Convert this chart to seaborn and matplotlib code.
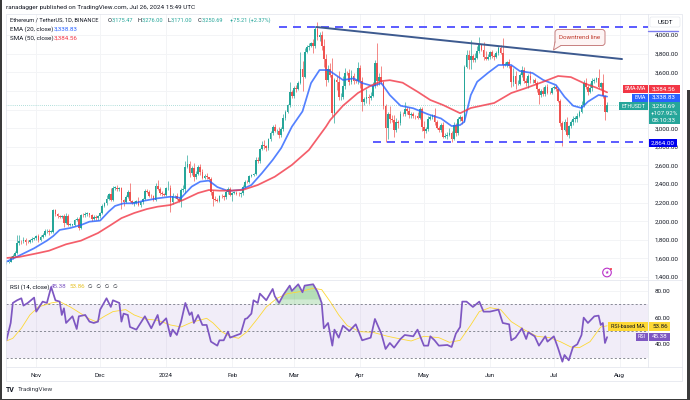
import matplotlib.pyplot as plt
import numpy as np
import pandas as pd
import seaborn as sns
from matplotlib.patches import Circle, FancyBboxPatch, Polygon, Rectangle

# Daily closes, Oct 18 2023 .. Jul 26 2024, one row per month
closes = [
    1565, 1567, 1605, 1630, 1660, 1765, 1787, 1785, 1803, 1778, 1775, 1794, 1810, 1816,
    1846, 1796, 1833, 1856, 1892, 1900, 1886, 1889, 2120, 2077, 2053, 2044, 2055, 1980, 2058,
    1961, 1962, 1964, 2012, 2022, 1930, 2064, 2062, 2081, 2083, 2064, 2027, 2049, 2029, 2052,
    2087, 2166, 2193, 2243, 2293, 2233, 2358, 2358, 2341, 2353, 2225, 2203, 2260, 2316, 2221,
    2197, 2197, 2217, 2177, 2201, 2239, 2326, 2315, 2273, 2267, 2230, 2378, 2346, 2300, 2291, 2281,
    2352, 2355, 2209, 2268, 2268, 2239, 2221, 2331, 2344, 2585, 2616, 2520, 2576, 2472, 2511,
    2587, 2529, 2467, 2490, 2470, 2454, 2312, 2240, 2232, 2218, 2267, 2266, 2256, 2317, 2343, 2282,
    2304, 2308, 2296, 2290, 2299, 2372, 2423, 2420, 2486, 2501, 2507, 2659, 2643, 2778, 2823,
    2803, 2785, 2881, 2944, 3014, 2969, 2972, 2922, 2992, 3112, 3178, 3243, 3383, 3340,
    3433, 3420, 3488, 3631, 3552, 3818, 3868, 3885, 3918, 3879, 4066, 3978, 4003, 3883, 3738,
    3521, 3640, 3575, 3160, 3520, 3493, 3329, 3330, 3455, 3590, 3588, 3500, 3561, 3510, 3509, 3645,
    3503, 3280, 3310, 3330, 3319, 3350, 3455, 3700, 3505, 3545, 3500, 3235, 3005, 3157, 3100,
    3085, 2984, 3065, 3055, 3155, 3147, 3201, 3185, 3139, 3155, 3131, 3130, 3112, 3210, 3014,
    2970, 2988, 3103, 3118, 3136, 3065, 3006, 2975, 3037, 2909, 2913, 2930, 2950, 2880, 3037,
    2945, 3093, 3120, 3074, 3660, 3790, 3737, 3780, 3727, 3748, 3825, 3892, 3840, 3767, 3747, 3761,
    3815, 3780, 3767, 3810, 3865, 3812, 3680, 3680, 3705, 3667, 3497, 3560, 3470, 3475, 3566,
    3622, 3510, 3482, 3560, 3515, 3517, 3490, 3418, 3354, 3395, 3370, 3447, 3380, 3377, 3435,
    3440, 3420, 3295, 3059, 2980, 3065, 2930, 3018, 3065, 3100, 3100, 3135, 3175, 3248, 3485,
    3443, 3388, 3426, 3505, 3518, 3537, 3440, 3480, 3340, 3175, 3250.69,
]
upper_wicks = [
    15, 10, 25, 20, 25, 85, 70, 15, 25, 20, 15, 20, 15, 15,
    10, 20, 15, 15, 20, 20, 15, 15, 15, 15, 15, 15, 15, 20, 30, 15, 15, 5, 10, 25, 20, 15, 20, 20, 15, 10, 10, 15, 20, 15,
    15, 20, 15, 35, 15, 60, 15, 15, 30, 15, 10, 15, 20, 15, 90, 10, 15, 10, 45, 15, 15, 15, 25, 20, 15, 10, 30, 65, 25, 20, 15,
    15, 75, 30, 30, 15, 40, 20, 25, 50, 60, 100, 30, 15, 50, 30, 15, 30, 30, 15, 25, 10, 20, 20, 30, 15, 15, 20, 15, 15, 25, 25,
    15, 15, 15, 15, 20, 20, 15, 15, 15, 10, 15, 30, 30, 10, 35, 45, 15, 15, 30, 20, 30, 15, 45, 15, 40, 20, 20, 110, 25,
    15, 30, 15, 190, 90, 45, 20, 25, 10, 40, 27, 70, 30, 40, 70,
    55, 35, 55, 180, 15, 40, 120, 50, 100, 60, 25, 50, 60, 30, 20, 60,
    30, 50, 25, 90, 40, 40, 40, 30, 210, 45, 120, 10, 25, 15, 85, 40, 60, 40, 20, 30, 15, 75, 25, 40, 15, 15, 10, 40, 15, 15,
    60, 25, 30, 20, 20, 75, 25, 20, 20, 30, 30, 30, 50, 15, 30, 20, 25, 25, 15, 15, 50, 50, 170, 15, 55, 60, 85, 10, 80, 60, 30,
    15, 20, 20, 20, 20, 30, 160, 25, 20, 35, 10, 90, 50, 45, 30, 50, 30, 30, 20, 50, 10, 20, 15, 10, 30, 45, 20, 30, 15, 10,
    20, 20, 15, 15, 20, 30, 50, 20, 20, 30, 30, 25, 25, 40, 35, 55, 20, 55, 30, 20, 15, 100, 20, 100, 15, 26,
]
lower_wicks = [
    15, 10, 10, 10, 5, 10, 20, 25, 15, 30, 10, 10, 15, 15,
    20, 20, 10, 15, 15, 15, 35, 15, 15, 20, 15, 15, 15, 40, 15, 15, 15, 15, 20, 15, 20, 15, 20, 15, 20, 15, 30, 15, 15, 20,
    15, 10, 10, 20, 15, 15, 15, 20, 15, 15, 90, 45, 10, 15, 15, 15, 35, 15, 15, 20, 15, 10, 15, 15, 20, 15, 15, 15, 15, 20, 15,
    15, 15, 109, 25, 15, 15, 20, 70, 15, 40, 15, 45, 20, 45, 15, 20, 30, 15, 15, 15, 15, 30, 75, 20, 15, 10, 15, 30, 15, 20, 15,
    65, 15, 10, 15, 35, 15, 15, 15, 15, 15, 15, 15, 15, 15, 15, 30, 35, 15, 20, 15, 15, 30, 30, 20, 20, 30, 20, 15, 15,
    15, 30, 15, 15, 150, 15, 15, 25, 15, 70, 15, 30, 40, 40, 80,
    65, 30, 25, 30, 100, 80, 25, 30, 15, 40, 15, 40, 30, 40, 20, 40,
    70, 100, 30, 40, 60, 20, 20, 25, 50, 45, 25, 30, 155, 125, 50, 15, 80, 30, 55, 20, 15, 15, 35, 30, 30, 20, 30, 15, 15, 50,
    80, 25, 15, 15, 15, 35, 15, 20, 15, 20, 20, 30, 15, 30, 10, 30, 15, 15, 30, 10, 15, 100, 100, 15, 15, 10, 15, 15, 40, 15, 15,
    15, 30, 30, 15, 20, 15, 30, 15, 20, 20, 50, 40, 50, 10, 15, 20, 25, 25, 50, 35, 25, 20, 30, 100, 20, 20, 30, 15, 15, 15,
    15, 20, 15, 40, 170, 15, 15, 40, 20, 30, 30, 30, 20, 15, 20, 25, 35, 15, 25, 15, 20, 10, 20, 20, 88, 5,
]

ema_days = [0, 5, 13, 19, 22, 25, 30, 35, 39, 44, 48, 51, 55, 60, 64, 71, 77, 82, 84, 87, 91, 95, 99, 104,
            110, 115, 120, 125, 129, 134, 139, 143, 147, 151, 154, 158, 163, 167, 172, 176, 180, 185, 191, 198, 204, 209,
            213, 215, 218, 221, 226, 231, 237, 241, 247, 252, 258, 262, 266, 270, 273, 278, 282]
ema_values = [1565, 1619, 1709, 1791, 1841, 1906, 1927, 1959, 1995, 2006, 2103, 2164, 2192, 2192, 2217, 2246, 2263, 2250, 2300, 2372, 2425, 2436, 2367, 2325,
              2336, 2389, 2518, 2658, 2786, 3015, 3180, 3484, 3624, 3624, 3580, 3517, 3534, 3484, 3452, 3484, 3355, 3241, 3213, 3148, 3104, 3022,
              3033, 3069, 3355, 3498, 3592, 3678, 3678, 3613, 3592, 3517, 3463, 3337, 3241, 3216, 3284, 3356, 3338.83]
sma_days = [0, 6, 15, 20, 28, 35, 43, 49, 54, 60, 66, 71, 77, 83, 90, 95, 100, 105, 111, 118, 126, 134, 142, 150, 152, 158, 165, 171,
            176, 180, 186, 193, 199, 205, 213, 218, 229, 237, 244, 252, 259, 265, 271, 277, 282]
sma_values = [1605, 1616, 1658, 1683, 1752, 1791, 1873, 1959, 2033, 2088, 2131, 2156, 2174, 2228, 2303, 2335, 2328, 2328, 2336, 2389, 2478, 2604, 2765, 3015, 3087, 3241, 3377, 3455,
              3505, 3515, 3488, 3391, 3302, 3248, 3160, 3216, 3270, 3377, 3431, 3498, 3560, 3548, 3484, 3434, 3384.56]

rsi_days = [0, 2, 3, 5, 7, 8, 10, 13, 14, 17, 19, 21, 23, 25, 26, 27, 28, 31, 33, 34, 37, 39, 41, 43, 44, 47, 49, 50, 53, 54, 55, 57, 58,
            61, 65, 67, 68, 71, 72, 75, 77, 78, 80, 82, 84, 86, 87, 88, 90, 92, 94, 96, 99, 100, 102, 104, 105,
            110, 112, 113, 115, 116, 118, 119, 122, 125, 126, 128, 130, 133, 134, 137, 139, 140, 144, 146, 148, 149, 151, 153, 154, 156, 158,
            161, 164, 167, 171, 173, 176, 178, 180, 182, 185, 187, 191, 193, 196, 198, 199, 201, 203, 207, 209, 211, 213,
            214, 216, 219, 222, 224, 227, 231, 233, 236, 237, 239, 242, 244, 245, 248, 250, 253, 254, 257, 259, 261, 262, 264, 266, 268,
            270, 271, 273, 276, 278, 279, 280, 281, 282]
rsi_values = [43, 56, 71, 73, 74.5, 69, 71, 75, 64.5, 72, 71, 83, 73, 72, 62, 67, 56, 61, 51.5, 61, 62, 57, 56, 57, 66, 74.5, 68, 73, 71, 57, 63, 62, 53,
              51, 61, 55, 52, 62, 54.5, 59.5, 46, 51, 47, 57, 71, 62, 64, 56, 62, 54.5, 54.5, 42, 39, 43, 43, 49.5, 45,
              48, 59, 59.5, 63, 73, 71, 78, 73, 81.5, 76, 71, 77, 84, 80, 85, 79, 84, 85, 79.5, 71, 52, 56, 39, 51, 45, 54,
              50, 55, 43, 45, 59, 48, 36.5, 41, 37.5, 44, 47, 46, 51, 39, 39, 46, 43, 39, 39.5, 38, 48, 53,
              72, 72, 68, 72, 64.5, 64.5, 66, 56, 55, 43, 45, 52, 44, 49, 46, 39, 46, 42, 46, 37, 27, 32, 28, 38, 40,
              47, 60, 56, 61, 61.5, 54.5, 56, 41, 45.38]
rsi_ma_days = [0, 3, 7, 11, 15, 21, 25, 30, 35, 39, 42, 46, 50, 56, 60, 65, 71, 77, 82, 87, 94, 97, 101, 105, 109, 113, 118, 122, 127, 132,
               138, 144, 148, 152, 156, 160, 166, 172, 179, 185, 190, 196, 203, 208, 213, 218, 222, 227, 232, 237, 243, 249, 255, 260, 265, 269, 274, 279, 282]
rsi_ma_values = [42.5, 44.5, 52, 62, 68, 71, 72, 68, 63, 59, 57, 61, 64.5, 66, 62, 59, 58, 54.5, 53, 56.5, 59.5, 56, 49.5, 46, 44.5, 49.5, 59.5, 68, 74.5, 78,
                 79.5, 82, 81, 72, 62, 54, 49.5, 49, 46, 44, 42.5, 46, 45, 41.5, 43, 54.5, 64.5, 67.5, 66, 57, 51, 46, 45, 42, 38, 37.5, 42, 53, 53.86]

price_ticks = [1400, 1600, 1800, 2000, 2200, 2400, 2600, 2800, 3000, 3200, 3400, 3600, 3800, 4000]
hidden_price_ticks = [3200, 3400]
rsi_ticks = [40, 60, 80]
month_starts = ["2023-11-01", "2023-12-01", "2024-01-01", "2024-02-01", "2024-03-01",
                "2024-04-01", "2024-05-01", "2024-06-01", "2024-07-01", "2024-08-01"]
month_labels = ["Nov", "Dec", "2024", "Feb", "Mar", "Apr", "May", "Jun", "Jul", "Aug"]

UP = "#26a69a"
DOWN = "#ef5350"
EMA_BLUE = "#2962ff"
SMA_RED = "#f23645"
RSI_PURPLE = "#7e57c2"
MA_YELLOW = "#fdd835"
TEXT = "#131722"
GRID = "#f3f4f6"

sns.set_theme(style="white")
plt.rcParams["font.family"] = ["Roboto", "DejaVu Sans"]

start = pd.Timestamp("2023-10-18")


def to_dates(days):
    return start + pd.to_timedelta(days, unit="D")


closes = np.array(closes, dtype=float)
opens = np.r_[1560.0, closes[:-1]]
opens[-1] = 3175.47
dates = to_dates(np.arange(len(closes)))
highs = np.maximum(opens, closes) + np.array(upper_wicks)
lows = np.minimum(opens, closes) - np.array(lower_wicks)
colors = np.where(closes >= opens, UP, DOWN)

fig = plt.figure(figsize=(6.9, 4.0), dpi=100, facecolor="white")
ax = fig.add_axes([6 / 690, 121 / 400, 642 / 690, 265 / 400])
ax_rsi = fig.add_axes([6 / 690, 33 / 400, 642 / 690, 87 / 400])

xlim = (to_dates(-0.2), to_dates(301.2))

# Price panel
for tick in month_starts:
    ax.axvline(pd.Timestamp(tick), color=GRID, lw=0.7, zorder=0)
    ax_rsi.axvline(pd.Timestamp(tick), color=GRID, lw=0.7, zorder=0)
for tick in price_ticks:
    ax.axhline(tick, color=GRID, lw=0.7, zorder=0)

ax.vlines(dates, lows, highs, colors=colors, lw=0.6, alpha=0.8, zorder=2)
ax.bar(dates, np.maximum(np.abs(closes - opens), 5), bottom=np.minimum(opens, closes),
       width=0.82, color=colors, lw=0, zorder=3)

sns.lineplot(x=to_dates(ema_days), y=ema_values, ax=ax, color=EMA_BLUE, lw=1.25, alpha=0.8,
             estimator=None, errorbar=None, zorder=4)
sns.lineplot(x=to_dates(sma_days), y=sma_values, ax=ax, color=SMA_RED, lw=1.25, alpha=0.8,
             estimator=None, errorbar=None, zorder=4)

# Last close, support and resistance, downtrend line
ax.axhline(closes[-1], color=UP, lw=0.5, ls=(0, (1, 2)), alpha=0.7, zorder=1)
ax.hlines(4086, to_dates(128), xlim[1], color="#3f3fff", lw=1.2, ls=(0, (4.8, 3.6)), zorder=5)
ax.hlines(2848, to_dates(172), to_dates(299), color="#3f3fff", lw=1.2, ls=(0, (4.8, 3.6)), zorder=5)
sns.lineplot(x=to_dates([145.5, 289]), y=[4086, 3742], ax=ax, color="#3d5a8f", lw=1.4,
             estimator=None, errorbar=None, zorder=5)

ax.set_xlim(xlim)
ax.set_ylim(1379, 4226)
ax.set_xticks([])
ax.set_xlabel("")
ax.set_ylabel("")
ax.yaxis.tick_right()
ax.set_yticks(price_ticks)
ax.set_yticklabels(["" if t in hidden_price_ticks else f"{t:,.2f}" for t in price_ticks])
ax.tick_params(axis="y", labelsize=4.5, colors=TEXT, length=0, pad=5)

# RSI panel
rsi_x = to_dates(rsi_days)
rsi_arr = np.array(rsi_values)
ax_rsi.axhspan(30, 70, color=RSI_PURPLE, alpha=0.1, lw=0, zorder=0)
for level in (30, 50, 70):
    ax_rsi.axhline(level, color="#787b86", lw=0.6, ls=(0, (2.5, 2.5)), zorder=1)
ax_rsi.axhline(80, color=GRID, lw=0.7, zorder=0)
over = (np.array(rsi_days) >= 126) & (np.array(rsi_days) <= 149)
ax_rsi.fill_between(rsi_x[over], 70, np.maximum(rsi_arr[over], 70), color="#66bb6a", alpha=0.3, lw=0, zorder=1)
ax_rsi.fill_between(rsi_x[over], 74, np.maximum(rsi_arr[over], 74), color="#66bb6a", alpha=0.25, lw=0, zorder=1)
sns.lineplot(x=to_dates(rsi_ma_days), y=rsi_ma_values, ax=ax_rsi, color=MA_YELLOW, lw=0.6,
             estimator=None, errorbar=None, zorder=2)
sns.lineplot(x=rsi_x, y=rsi_values, ax=ax_rsi, color=RSI_PURPLE, lw=1.25,
             estimator=None, errorbar=None, zorder=3)

ax_rsi.set_xlim(xlim)
ax_rsi.set_ylim(23, 88.2)
ax_rsi.set_xlabel("")
ax_rsi.set_ylabel("")
ax_rsi.set_xticks(pd.to_datetime(month_starts))
ax_rsi.set_xticklabels(month_labels)
ax_rsi.tick_params(axis="x", labelsize=4.5, colors=TEXT, length=0, pad=4)
ax_rsi.yaxis.tick_right()
ax_rsi.set_yticks(rsi_ticks)
ax_rsi.set_yticklabels([f"{t:.2f}" for t in rsi_ticks])
ax_rsi.tick_params(axis="y", labelsize=4.5, colors=TEXT, length=0, pad=5)

for a in (ax, ax_rsi):
    for side, spine in a.spines.items():
        spine.set_visible(side == "right")
        spine.set_color("#e0e3eb")
        spine.set_linewidth(0.5)

# Overlay in pixel coordinates for the chrome of the screenshot
ov = fig.add_axes([0, 0, 1, 1], zorder=10)
ov.set_xlim(0, 690)
ov.set_ylim(400, 0)
ov.axis("off")
ov.patch.set_alpha(0)


def box(x0, x1, y0, y1, color):
    ov.add_patch(Rectangle((x0, y0), x1 - x0, y1 - y0, fc=color, ec="none"))


def label(x, y, s, color=TEXT, size=4.5, ha="left", zorder=8):
    ov.text(x, y, s, color=color, fontsize=size, ha=ha, va="center", zorder=zorder)


# frame
ov.add_patch(Rectangle((6, 14), 676, 367, fc="none", ec="#e0e3eb", lw=0.5))
ov.plot([6, 682], [279.5, 279.5], color="#e0e3eb", lw=0.5)
ov.plot([6, 682], [367, 367], color="#e0e3eb", lw=0.5)
box(0, 1.5, 0, 400, "#3a3a3a")
box(0, 690, 398.5, 400, "#3a3a3a")
box(686.5, 690, 90, 400, "#3a3a3a")

label(6, 7, "ranadagger published on TradingView.com, Jul 26, 2024 15:49 UTC", size=4.6)
label(10, 20.5, "Ethereum / TetherUS, 1D, BINANCE", size=4.1)
for x, s in [(108, "O"), (138, "H"), (168, "L"), (198, "C")]:
    label(x, 20.5, s, size=4.1)
for x, s in [(111.5, "3,175.47"), (141.5, "3,276.00"), (171, "3,171.00"), (201.5, "3,250.69"), (230, "+75.21 (+2.37%)")]:
    label(x, 20.5, s, UP, size=4.1)
label(10, 29, "EMA (20, close)")
label(54, 29, "3,338.83", EMA_BLUE)
label(10, 38, "SMA (50, close)")
label(54, 38, "3,384.56", SMA_RED)
label(10, 287, "RSI (14, close)")
label(51, 287, "45.38", RSI_PURPLE)
label(70, 287, "53.86", "#e6c229")
label(88, 287, "\u2205   \u2205   \u2205   \u2205", size=3.8)

# callout
ov.add_patch(FancyBboxPatch((555, 29.5), 50, 16, boxstyle="round,pad=0,rounding_size=3",
                            fc="#fdf4f4", ec="#c77f7f", lw=0.7, zorder=6))
ov.add_patch(Polygon([[555, 42], [553.5, 50], [561, 45.5]], fc="#fdf4f4", ec="none", zorder=7))
ov.plot([555, 553.5, 561], [42, 50, 45.5], color="#c77f7f", lw=0.7, zorder=7)
label(580, 37.5, "Downtrend line", "#c0392b", ha="center")

# price scale
ov.add_patch(FancyBboxPatch((650, 17), 30, 10, boxstyle="round,pad=0,rounding_size=1.5", fc="white", ec="#e0e3eb", lw=0.4))
label(665, 22, "USDT", ha="center")
ov.plot([648, 678], [30.5, 30.5], color="#7c7cf0", lw=1)

box(623, 648, 85, 93, SMA_RED)
label(635.5, 89, "SMA-MA", "white", ha="center", size=3.9)
box(648.5, 680, 85, 93, SMA_RED)
label(664, 89, "3,384.56", "white", ha="center")
box(632, 648, 93.5, 101.5, EMA_BLUE)
label(640, 97.5, "EMA", "white", ha="center", size=3.9)
box(648.5, 680, 93.5, 101.5, EMA_BLUE)
label(664, 97.5, "3,338.83", "white", ha="center")
box(619, 648, 102, 110, UP)
label(633.5, 106, "ETHUSDT", "white", ha="center", size=3.9)
box(648.5, 680, 102, 124, UP)
label(664, 106, "3,250.69", "white", ha="center")
label(664, 113, "+107.92%", "white", ha="center")
label(664, 120, "08:10:33", "white", ha="center")
box(648.5, 677, 139, 147, "#0000ee")
label(663, 143, "2,864.00", "white", ha="center")

box(608, 648, 322, 331, MA_YELLOW)
label(628, 326.5, "RSI-based MA", ha="center", size=3.9)
box(648.5, 670, 322, 331, MA_YELLOW)
label(660, 326.5, "53.86", ha="center")
box(636, 648, 333, 341, RSI_PURPLE)
label(642, 337, "RSI", "white", ha="center", size=3.9)
box(648.5, 670, 333, 341, RSI_PURPLE)
label(660, 337, "45.38", "white", ha="center")

# replay icon and logo
ov.add_patch(Circle((607, 272.5), 4.3, fc="white", ec="#ba30c9", lw=0.8))
ov.text(607, 272.5, "\u2605", color="#ba30c9", fontsize=3.5, ha="center", va="center", family="DejaVu Sans")
ov.add_patch(Circle((611, 269), 1, fc="#f23645", ec="none"))
ov.text(6, 390, "TV", color=TEXT, fontsize=5, fontweight="bold", va="center")
label(17.5, 390, "TradingView", "#3b3f48", size=4.6)

fig.savefig("out.png", dpi=100)
